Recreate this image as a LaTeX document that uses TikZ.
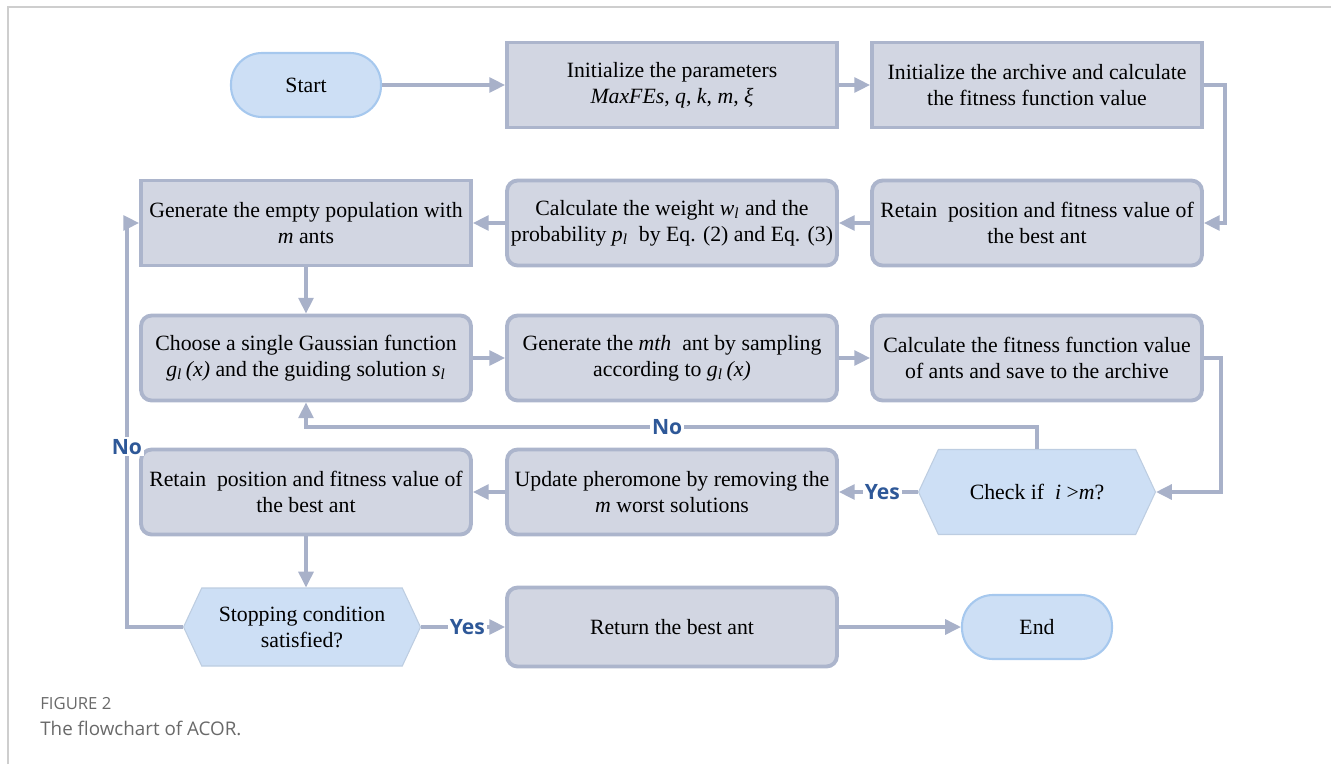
\documentclass[tikz,border=0pt]{standalone}
\usepackage{fontspec}
\setmainfont{Liberation Serif}
\newfontfamily\capfont{Open Sans}
\usetikzlibrary{arrows.meta,shapes.symbols}
\definecolor{boxfill}{RGB}{210,214,226}
\definecolor{boxline}{RGB}{172,181,204}
\definecolor{flowline}{RGB}{168,177,201}
\definecolor{termfill}{RGB}{205,223,245}
\definecolor{termline}{RGB}{166,200,238}
\definecolor{tagblue}{RGB}{46,88,152}
\definecolor{capgray}{RGB}{105,105,105}
\definecolor{framegray}{RGB}{206,206,206}
\tikzset{
  box/.style={draw=boxline,fill=boxfill,line width=2.2pt,minimum width=6.6cm,
    minimum height=1.7cm,align=center,inner sep=2pt,
    font=\fontsize{12.4}{14.8}\selectfont},
  rbox/.style={box,rounded corners=6pt},
  term/.style={draw=termline,fill=termfill,line width=1.2pt,minimum width=3cm,
    minimum height=1.28cm,rounded corners=0.62cm,
    font=\fontsize{12.4}{14.8}\selectfont},
  dec/.style={signal,signal to=east and west,signal pointer angle=130,
    fill=termfill,draw=termfill!92!black,line width=0.6pt,minimum width=4.74cm,
    align=center,inner sep=2pt,font=\fontsize{12.4}{14.8}\selectfont},
  flow/.style={draw=flowline,line width=1.9pt,
    -{Triangle[length=9pt,width=8.5pt]}},
  tag/.style={font=\capfont\bfseries\fontsize{12}{12}\selectfont,
    text=tagblue,fill=white,inner sep=1pt}
}
\newcommand{\sub}[1]{\textsubscript{\textit{#1}}}

\begin{document}
\begin{tikzpicture}[x=0.02cm,y=-0.02cm]
  \useasboundingbox (0,0) rectangle (1331,764);
  \draw[framegray,line width=1.2pt] (8,764) -- (8,7) -- (1331,7);

  % first row
  \node[term] (start) at (306,85) {Start};
  \node[box] (init) at (672,85) {Initialize the parameters\\
    \textit{MaxFEs}, \textit{q}, \textit{k}, \textit{m}, \textit{ξ}};
  \node[box] (arch) at (1037,85) {Initialize the archive and calculate\\
    the fitness function value};

  % second row
  \node[rbox] (best) at (1037,223) {Retain~ position and fitness value of\\ the best ant};
  \node[rbox] (weight) at (672,223) {Calculate the weight \textit{w}\sub{l} and the\\
    probability \textit{p}\sub{l}~ by Eq. (2) and Eq. (3)};
  \node[box] (pop) at (306,223) {Generate the empty population with\\ \textit{m} ants};

  % third row
  \node[rbox] (gauss) at (306,358) {Choose a single Gaussian function\\
    \textit{g}\sub{l}\,\textit{(x)} and the guiding solution \textit{s}\sub{l}};
  \node[rbox] (sample) at (672,358) {Generate the \textit{mth}~ ant by sampling\\
    according to \textit{g}\sub{l}\,\textit{(x)}};
  \node[rbox] (fit) at (1037,358) {Calculate the fitness function value\\
    of ants and save to the archive};

  % fourth row
  \node[dec,minimum height=1.7cm] (check) at (1037,492) {Check if~ \textit{i} >\textit{m}?};
  \node[rbox] (upd) at (672,492) {Update pheromone by removing the\\ \textit{m} worst solutions};
  \node[rbox] (best2) at (306,492) {Retain~ position and fitness value of\\ the best ant};

  % last row
  \node[dec,minimum height=1.56cm] (stop) at (302,627) {Stopping condition\\ satisfied?};
  \node[rbox,minimum height=1.58cm] (ret) at (672,627) {Return the best ant};
  \node[term] (fin) at (1037,627) {End};

  % connectors
  \draw[flow] (start) -- (init);
  \draw[flow] (init) -- (arch);
  \draw[flow] (arch.east) -- ++(21,0) |- (best.east);
  \draw[flow] (best) -- (weight);
  \draw[flow] (weight) -- (pop);
  \draw[flow] (pop) -- (gauss);
  \draw[flow] (gauss) -- (sample);
  \draw[flow] (sample) -- (fit);
  \draw[flow] (fit.east) -- ++(17,0) |- (check.east);
  \draw[flow] (check.north) -- ++(0,-22) -| node[tag,pos=0.253] {No} (gauss.south);
  \draw[flow] (check.west) -- node[tag,pos=0.45] {Yes} (upd.east);
  \draw[flow] (upd) -- (best2);
  \draw[flow] (best2) -- (best2 |- stop.north);
  \draw[flow] (stop.west) -- ++(-56,0) |- node[tag,pos=0.223] {No} (pop.west);
  \draw[flow] (stop.east) -- node[tag,pos=0.55] {Yes} (ret.west);
  \draw[flow] (ret) -- (fin);

  % caption
  \node[anchor=base west,inner sep=0,text=capgray,
    font=\capfont\fontsize{9.5}{11}\selectfont] (figno) at (40,709) {FIGURE 2};
  \node[anchor=base west,inner sep=0,text=capgray,
    font=\capfont\fontsize{10.7}{13}\selectfont] (figcap) at (40,735) {The flowchart of ACOR.};
\end{tikzpicture}
\end{document}
